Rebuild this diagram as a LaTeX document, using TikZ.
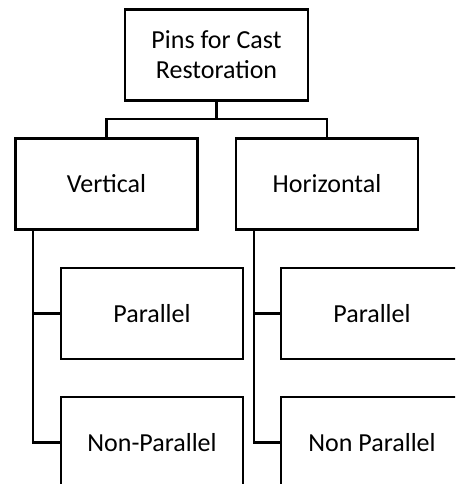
\documentclass[tikz,border=0pt]{standalone}
\usepackage{fontspec}
\setmainfont{Carlito}
\begin{document}
\begin{tikzpicture}[x=1pt,y=-1pt,
  box/.style={draw=black,line width=2.4pt,minimum width=182pt,minimum height=91pt,inner sep=0pt,align=center,font=\fontsize{26}{30}\selectfont},
  link/.style={draw=black,line width=2.4pt}]
\clip (0,0) rectangle (455,484);
\node[box,minimum width=183pt] (root) at (216.5,55) {Pins for Cast\\Restoration};
\node[box] (vert) at (106.5,184) {Vertical};
\node[box] (horiz) at (327,184) {Horizontal};
\node[box] (lp) at (152,313.5) {Parallel};
\node[box] (lnp) at (152,442.5) {Non-Parallel};
\node[box] (rp) at (372,313.5) {Parallel};
\node[box] (rnp) at (372,442.5) {Non Parallel};
\coordinate (j) at (216.5,119);
\coordinate (vl) at (33,230);
\coordinate (hl) at (254,230);
\draw[link] (root.south) -- (j);
\draw[link] (j) -| (vert.north);
\draw[link] (j) -| (horiz.north);
\draw[link] (vl) |- (lp.west);
\draw[link] (vl) |- (lnp.west);
\draw[link] (hl) |- (rp.west);
\draw[link] (hl) |- (rnp.west);
\end{tikzpicture}
\end{document}
